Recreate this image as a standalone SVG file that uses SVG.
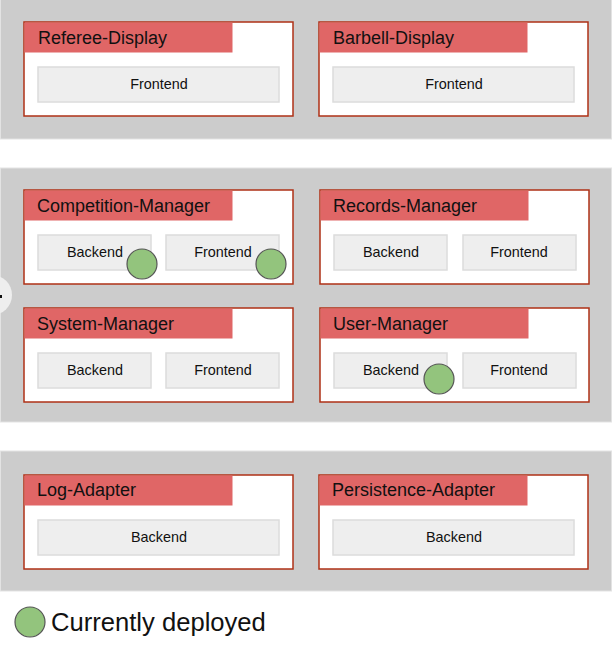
<svg xmlns="http://www.w3.org/2000/svg" width="613" height="649" viewBox="0 0 613 649">
<style>
.band{fill:#cccccc;stroke:#e3e3e3;stroke-width:1}
.node{fill:#ffffff;stroke:#ae3016;stroke-width:1.5}
.hdr{fill:#e06666;stroke:none}
.title{font-family:"Liberation Sans",Arial,sans-serif;font-size:18px;fill:#111}
.comp{fill:#eeeeee;stroke:#dcdcdc;stroke-width:1.5}
.ctext{font-family:"Liberation Sans",Arial,sans-serif;font-size:14.4px;fill:#111;text-anchor:middle}
.dep{fill:#93c47d;stroke:#555555;stroke-width:1.2}
</style>
<rect fill="#ffffff" x="0" y="0" width="613" height="649"/>
<g id="bands">
<rect class="band" x="0.5" y="-1" width="611" height="140"/>
<rect class="band" x="0.5" y="168" width="611" height="254"/>
<rect class="band" x="0.5" y="451" width="611" height="140"/>
</g>
<g id="side-circle">
<circle cx="-8" cy="295" r="20" fill="#eeeeee"/>
<rect x="0" y="295" width="2" height="3" fill="#111"/>
</g>
<g id="referee-display">
<rect class="node" x="24" y="22" width="269" height="94"/>
<rect class="hdr" x="24.5" y="22.5" width="208" height="30"/>
<text class="title" x="38" y="44">Referee-Display</text>
<rect class="comp" x="38" y="67" width="241" height="35"/>
<text class="ctext" x="159" y="89">Frontend</text>
</g>
<g id="barbell-display">
<rect class="node" x="319" y="22" width="269" height="94"/>
<rect class="hdr" x="319.5" y="22.5" width="208" height="30"/>
<text class="title" x="333" y="44">Barbell-Display</text>
<rect class="comp" x="333" y="67" width="241" height="35"/>
<text class="ctext" x="454" y="89">Frontend</text>
</g>
<g id="competition-manager">
<rect class="node" x="24" y="190" width="269" height="94"/>
<rect class="hdr" x="24.5" y="190.5" width="208" height="30"/>
<text class="title" x="37" y="212">Competition-Manager</text>
<rect class="comp" x="38" y="235" width="113" height="35"/>
<text class="ctext" x="95" y="257">Backend</text>
<rect class="comp" x="166" y="235" width="113" height="35"/>
<text class="ctext" x="223" y="257">Frontend</text>
<circle class="dep" cx="142" cy="264" r="15"/>
<circle class="dep" cx="271" cy="264" r="15"/>
</g>
<g id="records-manager">
<rect class="node" x="320" y="190" width="269" height="94"/>
<rect class="hdr" x="320.5" y="190.5" width="208" height="30"/>
<text class="title" x="333" y="212">Records-Manager</text>
<rect class="comp" x="334" y="235" width="113" height="35"/>
<text class="ctext" x="391" y="257">Backend</text>
<rect class="comp" x="463" y="235" width="113" height="35"/>
<text class="ctext" x="519" y="257">Frontend</text>
</g>
<g id="system-manager">
<rect class="node" x="24" y="308" width="269" height="94"/>
<rect class="hdr" x="24.5" y="308.5" width="208" height="30"/>
<text class="title" x="37" y="330">System-Manager</text>
<rect class="comp" x="38" y="353" width="113" height="35"/>
<text class="ctext" x="95" y="375">Backend</text>
<rect class="comp" x="166" y="353" width="113" height="35"/>
<text class="ctext" x="223" y="375">Frontend</text>
</g>
<g id="user-manager">
<rect class="node" x="320" y="308" width="269" height="94"/>
<rect class="hdr" x="320.5" y="308.5" width="208" height="30"/>
<text class="title" x="333" y="330">User-Manager</text>
<rect class="comp" x="334" y="353" width="113" height="35"/>
<text class="ctext" x="391" y="375">Backend</text>
<rect class="comp" x="463" y="353" width="113" height="35"/>
<text class="ctext" x="519" y="375">Frontend</text>
<circle class="dep" cx="439" cy="379" r="15"/>
</g>
<g id="log-adapter">
<rect class="node" x="24" y="475" width="269" height="94"/>
<rect class="hdr" x="24.5" y="475.5" width="208" height="30"/>
<text class="title" x="37" y="496">Log-Adapter</text>
<rect class="comp" x="38" y="520" width="241" height="35"/>
<text class="ctext" x="159" y="542">Backend</text>
</g>
<g id="persistence-adapter">
<rect class="node" x="319" y="475" width="269" height="94"/>
<rect class="hdr" x="319.5" y="475.5" width="208" height="30"/>
<text class="title" x="332" y="496">Persistence-Adapter</text>
<rect class="comp" x="333" y="520" width="241" height="35"/>
<text class="ctext" x="454" y="542">Backend</text>
</g>
<g id="connectors"></g>
<g id="legend">
<circle class="dep" cx="30" cy="622" r="15"/>
<text x="51" y="631" font-family="'Liberation Sans',Arial,sans-serif" font-size="25.6" fill="#111">Currently deployed</text>
</g>
</svg>
